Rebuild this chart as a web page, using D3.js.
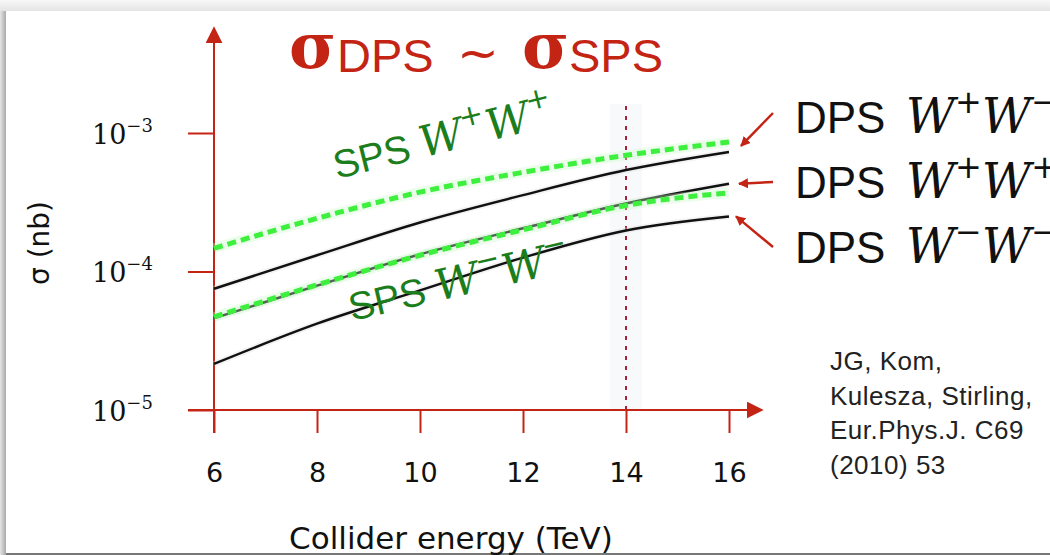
<!DOCTYPE html>
<html>
<head>
<meta charset="utf-8">
<script src="https://cdn.jsdelivr.net/npm/d3@7"></script>
<style>
  body { margin: 0; background: #fff; }
  svg { display: block; }
</style>
</head>
<body>
<svg width="1050" height="555"></svg>
<script>
// collider energy (TeV) and cross sections (nb)
var energy  = [6, 8, 10, 12, 14, 16];
var dpsWpWm = [7.5e-5, 1.31e-4, 2.26e-4, 3.56e-4, 5.4e-4, 7.3e-4];
var dpsWpWp = [4.6e-5, 7.9e-5, 1.33e-4, 2.05e-4, 3.1e-4, 4.3e-4];
var dpsWmWm = [2.15e-5, 4.2e-5, 7.3e-5, 1.26e-4, 1.98e-4, 2.5e-4];
var spsWpWp = [1.47e-4, 2.42e-4, 3.74e-4, 5.2e-4, 6.9e-4, 8.6e-4];
var spsWmWm = [4.7e-5, 8.0e-5, 1.31e-4, 2.0e-4, 3.0e-4, 3.7e-4];
var xTicks = [6, 8, 10, 12, 14, 16];
var yTicks = [1e-5, 1e-4, 1e-3];
var yTickExp = ["\u22125", "\u22124", "\u22123"];
var lhc = 14;

var svg = d3.select("svg");
var red = "#c42414", green = "#1b7d1b", dash = "#3df03d";

//page / card look
var defs = svg.append("defs");
var gt = defs.append("linearGradient").attr("id", "gtop").attr("x1", 0).attr("y1", 0).attr("x2", 0).attr("y2", 1);
gt.append("stop").attr("offset", 0).attr("stop-color", "#f8f8f8");
gt.append("stop").attr("offset", 1).attr("stop-color", "#e4e4e4");
var gl = defs.append("linearGradient").attr("id", "gleft").attr("x1", 0).attr("y1", 0).attr("x2", 1).attr("y2", 0);
gl.append("stop").attr("offset", 0).attr("stop-color", "#e6e6e6");
gl.append("stop").attr("offset", 1).attr("stop-color", "#a8a8a8");
svg.append("rect").attr("width", 1050).attr("height", 11).attr("fill", "url(#gtop)");
svg.append("rect").attr("y", 11).attr("width", 6).attr("height", 544).attr("fill", "url(#gleft)");
svg.append("rect").attr("x", 6).attr("y", 11).attr("width", 1044).attr("height", 542).attr("fill", "#fff");
svg.append("rect").attr("x", 6).attr("y", 553).attr("width", 1044).attr("height", 2).attr("fill", "#777");

var x = d3.scaleLinear().domain([6, 16]).range([214, 729]);
var y = d3.scaleLog().domain([1e-5, 1e-3]).range([410, 133]);

//faint band behind the 14 TeV line
svg.append("rect").attr("x", x(lhc) - 16).attr("y", 104).attr("width", 32).attr("height", 306)
  .attr("fill", "#f8f9fb");
svg.append("line").attr("x1", x(lhc)).attr("x2", x(lhc)).attr("y1", 106).attr("y2", 410)
  .attr("stroke", "#a8203c").attr("stroke-width", 2).attr("stroke-dasharray", "4,6");

//axes
var mk = defs.append("marker").attr("id", "ah").attr("viewBox", "0 0 10 10").attr("refX", 9).attr("refY", 5)
  .attr("markerWidth", 10).attr("markerHeight", 10).attr("markerUnits", "userSpaceOnUse").attr("orient", "auto");
mk.append("path").attr("d", "M0,0L10,5L0,10z").attr("fill", red);
var mk2 = defs.append("marker").attr("id", "axh").attr("viewBox", "0 0 10 10").attr("refX", 9).attr("refY", 5)
  .attr("markerWidth", 17).attr("markerHeight", 17).attr("markerUnits", "userSpaceOnUse").attr("orient", "auto");
mk2.append("path").attr("d", "M0,0L10,5L0,10z").attr("fill", red);

svg.append("line").attr("x1", 188).attr("x2", 762).attr("y1", y(1e-5)).attr("y2", y(1e-5))
  .attr("stroke", red).attr("stroke-width", 2).attr("marker-end", "url(#axh)");
svg.append("line").attr("x1", x(6)).attr("x2", x(6)).attr("y1", 433).attr("y2", 28)
  .attr("stroke", red).attr("stroke-width", 2).attr("marker-end", "url(#axh)");

var gx = svg.append("g").attr("transform", "translate(0," + y(1e-5) + ")")
  .call(d3.axisBottom(x).tickValues(xTicks).tickSize(23).tickPadding(30));
gx.select(".domain").remove();
gx.selectAll(".tick line").attr("stroke", red).attr("stroke-width", 2);
gx.selectAll(".tick text").attr("font-family", "DejaVu Sans").attr("font-size", 27).attr("fill", "#111");

var gy = svg.append("g").attr("transform", "translate(" + x(6) + ",0)")
  .call(d3.axisLeft(y).tickValues(yTicks).tickSize(26).tickFormat(""));
gy.select(".domain").remove();
gy.selectAll(".tick line").attr("stroke", red).attr("stroke-width", 2);
gy.selectAll(".tick").each(function(d, i) {
  var t = d3.select(this).append("text").attr("x", -122).attr("y", 10)
    .attr("text-anchor", "start").attr("font-family", "DejaVu Serif").attr("font-size", 27).attr("fill", "#111");
  t.append("tspan").text("10");
  t.append("tspan").attr("dy", -12).attr("font-size", 18).text(yTickExp[i]);
});

//axis titles
svg.append("text").attr("transform", "translate(49,243) rotate(-90)").attr("text-anchor", "middle")
  .attr("font-family", "DejaVu Sans").attr("font-size", 28).attr("fill", "#111").text("\u03c3 (nb)");
svg.append("text").attr("x", 451).attr("y", 549).attr("text-anchor", "middle")
  .attr("font-family", "DejaVu Sans").attr("font-size", 31).attr("fill", "#111").text("Collider energy (TeV)");

//curves
var line = d3.line().x(function(d) { return x(d[0]); }).y(function(d) { return y(d[1]); }).curve(d3.curveMonotoneX);
function pts(v) { return energy.map(function(e, i) { return [e, v[i]]; }); }

[dpsWpWm, dpsWpWp, dpsWmWm].forEach(function(s) {
  svg.append("path").attr("d", line(pts(s))).attr("fill", "none")
    .attr("stroke", "#ddd").attr("stroke-width", 6).attr("stroke-opacity", 0.35);
  svg.append("path").attr("d", line(pts(s))).attr("fill", "none")
    .attr("stroke", "#111").attr("stroke-width", 2.5);
});
[spsWpWp, spsWmWm].forEach(function(s) {
  svg.append("path").attr("d", line(pts(s))).attr("fill", "none")
    .attr("stroke", "#c8f8c8").attr("stroke-width", 10).attr("stroke-opacity", 0.35);
  svg.append("path").attr("d", line(pts(s))).attr("fill", "none")
    .attr("stroke", dash).attr("stroke-width", 5).attr("stroke-dasharray", "9,5");
});

//title
var title = svg.append("g").attr("fill", red);
title.append("text").attr("x", 289).attr("y", 68).attr("font-family", "DejaVu Serif").attr("font-weight", "bold")
  .attr("font-size", 64).text("\u03c3");
title.append("text").attr("x", 337).attr("y", 72).attr("font-family", "Liberation Sans").attr("font-size", 47).text("DPS");
title.append("text").attr("x", 457).attr("y", 70).attr("font-family", "DejaVu Sans").attr("font-size", 50).text("~");
title.append("text").attr("x", 522).attr("y", 68).attr("font-family", "DejaVu Serif").attr("font-weight", "bold")
  .attr("font-size", 64).text("\u03c3");
title.append("text").attr("x", 569).attr("y", 72).attr("font-family", "Liberation Sans").attr("font-size", 47).text("SPS");

//rotated SPS labels
function wwLabel(g, s1, s2, size) {
  g.append("tspan").attr("font-family", "Liberation Sans").text("SPS ");
  g.append("tspan").attr("font-family", "DejaVu Serif").attr("font-style", "italic").attr("font-size", size * 1.1).text("W");
  g.append("tspan").attr("font-family", "DejaVu Sans").attr("font-size", size * 0.75).attr("dy", -size * 0.5).text(s1);
  g.append("tspan").attr("font-family", "DejaVu Serif").attr("font-style", "italic").attr("font-size", size * 1.1).attr("dy", size * 0.5).text("W");
  g.append("tspan").attr("font-family", "DejaVu Sans").attr("font-size", size * 0.75).attr("dy", -size * 0.5).text(s2);
}
wwLabel(svg.append("text").attr("transform", "translate(337,179) rotate(-14)").attr("font-size", 39).attr("fill", green), "+", "+", 39);
wwLabel(svg.append("text").attr("transform", "translate(352,321) rotate(-13)").attr("font-size", 39).attr("fill", green), "\u2212", "\u2212", 39);

//DPS labels with arrows
var dps = [
  { v: dpsWpWm[5], s1: "+", s2: "\u2212", ty: 133, ax: 773, ay: 113, dx: 12, dy: -6 },
  { v: dpsWpWp[5], s1: "+", s2: "+", ty: 198, ax: 773, ay: 182, dx: 10, dy: 0 },
  { v: dpsWmWm[5], s1: "\u2212", s2: "\u2212", ty: 263, ax: 773, ay: 247, dx: 7, dy: 0 }
];
dps.forEach(function(d) {
  svg.append("line").attr("x1", d.ax).attr("y1", d.ay).attr("x2", x(16) + d.dx).attr("y2", y(d.v) + d.dy)
    .attr("stroke", red).attr("stroke-width", 2.5).attr("marker-end", "url(#ah)");
  var t = svg.append("text").attr("x", 795).attr("y", d.ty).attr("font-size", 44).attr("fill", "#111");
  t.append("tspan").attr("font-family", "Liberation Sans").text("DPS ");
  t.append("tspan").attr("font-family", "DejaVu Serif").attr("font-style", "italic").attr("font-size", 48).attr("dx", 8).text("W");
  t.append("tspan").attr("font-family", "DejaVu Sans").attr("font-size", 32).attr("dy", -20).text(d.s1);
  t.append("tspan").attr("font-family", "DejaVu Serif").attr("font-style", "italic").attr("font-size", 48).attr("dy", 20).text("W");
  t.append("tspan").attr("font-family", "DejaVu Sans").attr("font-size", 32).attr("dy", -20).text(d.s2);
});

//reference
var ref = ["JG, Kom,", "Kulesza, Stirling,", "Eur.Phys.J. C69", "(2010) 53"];
svg.append("g").selectAll("text").data(ref).enter().append("text")
  .attr("x", 830).attr("y", function(d, i) { return 370 + i * 34.5; })
  .attr("font-family", "Liberation Sans").attr("font-size", 26).attr("letter-spacing", 0.5)
  .attr("fill", "#222").text(function(d) { return d; });
</script>
</body>
</html>
